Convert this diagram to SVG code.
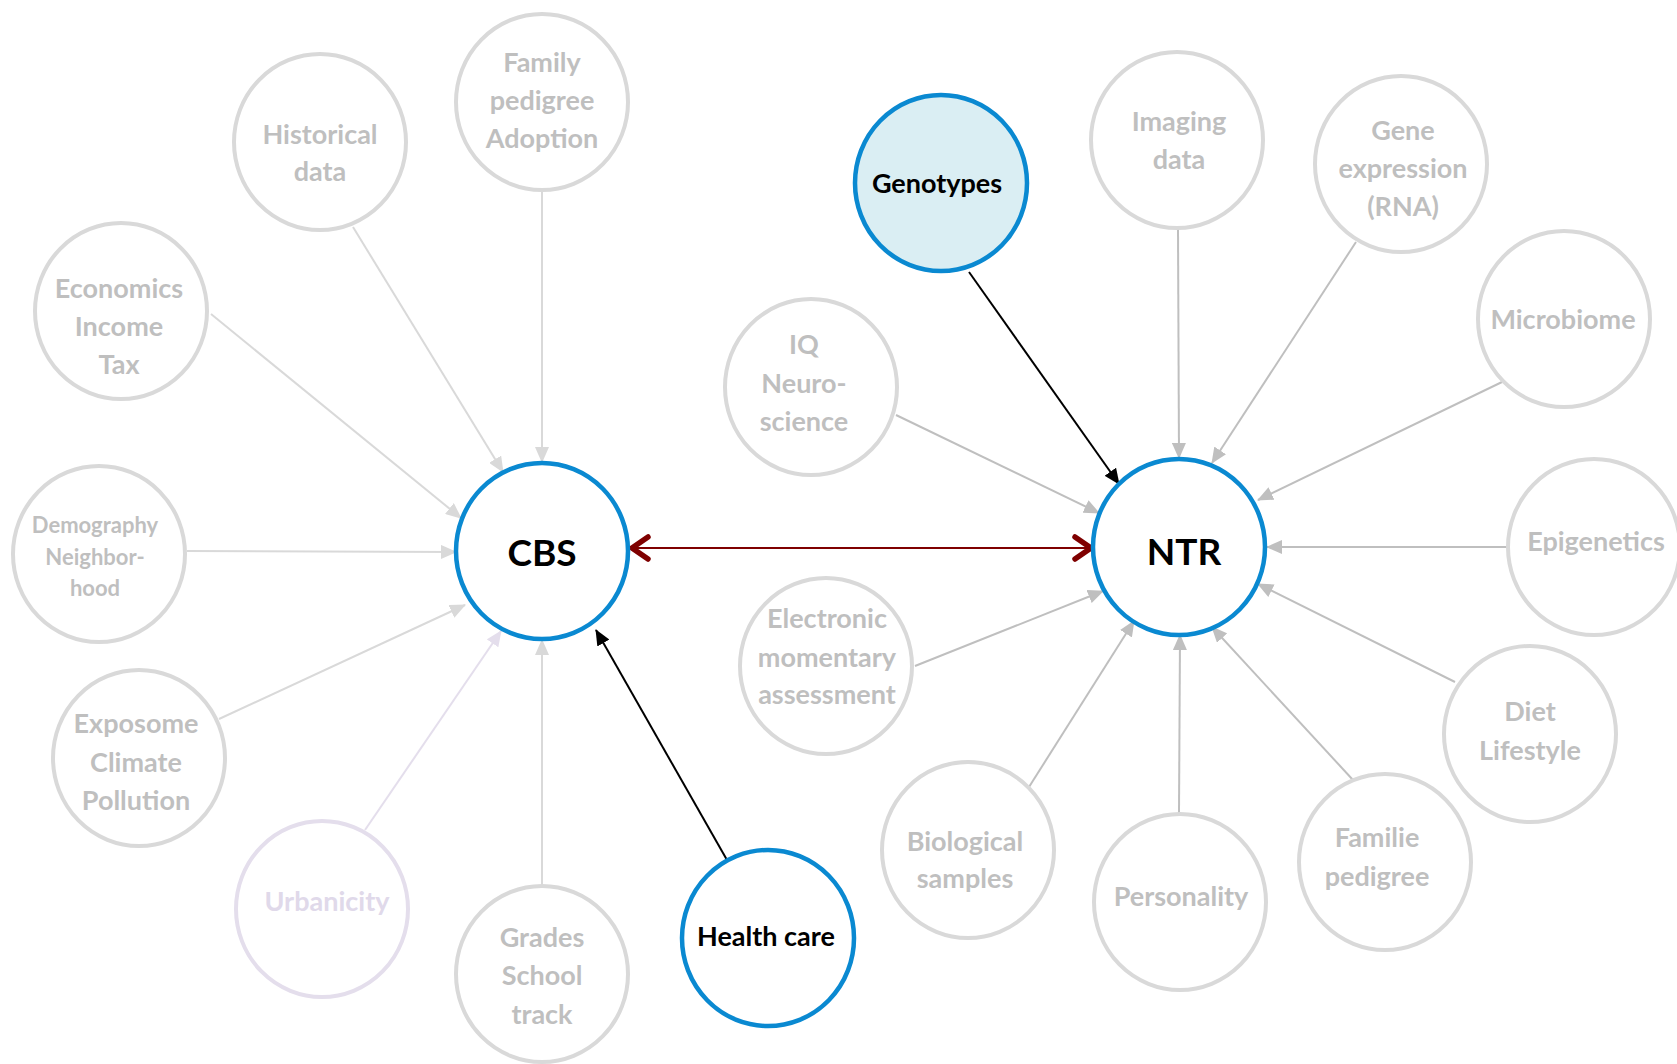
<svg xmlns="http://www.w3.org/2000/svg" width="1677" height="1064" viewBox="0 0 1677 1064">
<style>
.n ellipse{fill:#fff;stroke:#d9d9d9;stroke-width:4}
.n text{font-family:Lato,"Open Sans","Liberation Sans",sans-serif;font-weight:700;font-size:27px;fill:#bfbfbf;text-anchor:middle;dominant-baseline:central}
.hub ellipse{stroke:#0a89d1;stroke-width:4.5}
.hub text{fill:#000}
.big text{font-size:37px}
.c line{stroke-width:2;fill:none}
.l{stroke:#d9d9d9}
.g{stroke:#bfbfbf}
.k{stroke:#000}
.u{stroke:#e4deec}
</style>
<defs>
<marker id="al" markerUnits="userSpaceOnUse" markerWidth="16" markerHeight="14" refX="15" refY="7" orient="auto"><path d="M0,0L16,7L0,14z" fill="#d9d9d9"/></marker>
<marker id="ag" markerUnits="userSpaceOnUse" markerWidth="16" markerHeight="14" refX="15" refY="7" orient="auto"><path d="M0,0L16,7L0,14z" fill="#bfbfbf"/></marker>
<marker id="ak" markerUnits="userSpaceOnUse" markerWidth="16" markerHeight="14" refX="15" refY="7" orient="auto"><path d="M0,0L16,7L0,14z" fill="#000"/></marker>
<marker id="au" markerUnits="userSpaceOnUse" markerWidth="16" markerHeight="14" refX="15" refY="7" orient="auto"><path d="M0,0L16,7L0,14z" fill="#e4deec"/></marker>
<marker id="ar" markerUnits="userSpaceOnUse" markerWidth="24" markerHeight="28" refX="20" refY="14" orient="auto-start-reverse"><path d="M4,3L20,14L4,25" fill="none" stroke="#7f0000" stroke-width="5.5" stroke-linecap="round" stroke-linejoin="round"/></marker>
</defs>
<rect width="1677" height="1064" fill="#fff"/>
<g class="c" id="connectors">
<line class="l" x1="542" y1="190" x2="542" y2="462" marker-end="url(#al)"/>
<line class="l" x1="353" y1="227" x2="503" y2="472" marker-end="url(#al)"/>
<line class="l" x1="211" y1="314" x2="461" y2="518" marker-end="url(#al)"/>
<line class="l" x1="187" y1="551" x2="456" y2="552" marker-end="url(#al)"/>
<line class="l" x1="219" y1="719" x2="465" y2="605" marker-end="url(#al)"/>
<line class="u" x1="365" y1="830" x2="501" y2="631" marker-end="url(#au)"/>
<line class="l" x1="542" y1="886" x2="542" y2="640" marker-end="url(#al)"/>
<line class="k" x1="727" y1="860" x2="596" y2="630" marker-end="url(#ak)"/>
<line x1="632" y1="548" x2="1091" y2="548" stroke="#7f0000" stroke-width="5" marker-start="url(#ar)" marker-end="url(#ar)"/>
<line class="k" x1="969" y1="272" x2="1119" y2="484" marker-end="url(#ak)"/>
<line class="g" x1="1178" y1="229" x2="1179" y2="458" marker-end="url(#ag)"/>
<line class="g" x1="1356" y1="242" x2="1212" y2="463" marker-end="url(#ag)"/>
<line class="g" x1="1502" y1="382" x2="1258" y2="500" marker-end="url(#ag)"/>
<line class="g" x1="896" y1="415" x2="1099" y2="513" marker-end="url(#ag)"/>
<line class="g" x1="1508" y1="547" x2="1267" y2="547" marker-end="url(#ag)"/>
<line class="g" x1="915" y1="666" x2="1103" y2="591" marker-end="url(#ag)"/>
<line class="g" x1="1455" y1="682" x2="1258" y2="584" marker-end="url(#ag)"/>
<line class="g" x1="1029" y1="787" x2="1134" y2="621" marker-end="url(#ag)"/>
<line class="g" x1="1179" y1="813" x2="1180" y2="635" marker-end="url(#ag)"/>
<line class="g" x1="1353" y1="780" x2="1212" y2="627" marker-end="url(#ag)"/>
</g>
<g class="n hub big" id="cbs"><ellipse cx="542" cy="551" rx="86" ry="88"/><text x="542" y="551">CBS</text></g>
<g class="n hub big" id="ntr"><ellipse cx="1179" cy="547" rx="86" ry="88"/><text x="1184" y="550">NTR</text></g>
<g class="n hub" id="genotypes"><ellipse cx="941" cy="183" rx="86" ry="88" style="fill:#daeef3"/><text x="937" y="182">Genotypes</text></g>
<g class="n hub" id="healthcare"><ellipse cx="768" cy="938" rx="86" ry="88"/><text x="766" y="935">Health care</text></g>
<g class="n" id="family"><ellipse cx="542" cy="102" rx="86" ry="88"/><text x="542" y="61">Family</text><text x="542" y="99">pedigree</text><text x="542" y="137">Adoption</text></g>
<g class="n" id="historical"><ellipse cx="320" cy="142" rx="86" ry="88"/><text x="320" y="133">Historical</text><text x="320" y="170">data</text></g>
<g class="n" id="economics"><ellipse cx="121" cy="311" rx="86" ry="88"/><text x="119" y="287">Economics</text><text x="119" y="325">Income</text><text x="119" y="363">Tax</text></g>
<g class="n" id="demography"><ellipse cx="99" cy="554" rx="86" ry="88"/><text x="95" y="524" style="font-size:22px">Demography</text><text x="95" y="556" style="font-size:22px">Neighbor-</text><text x="95" y="587" style="font-size:22px">hood</text></g>
<g class="n" id="exposome"><ellipse cx="139" cy="758" rx="86" ry="88"/><text x="136" y="722">Exposome</text><text x="136" y="761">Climate</text><text x="136" y="799">Pollution</text></g>
<g class="n" id="urbanicity"><ellipse cx="322" cy="909" rx="86" ry="88" style="stroke:#e4deec"/><text x="327" y="900" style="fill:#e0d9ea">Urbanicity</text></g>
<g class="n" id="grades"><ellipse cx="542" cy="974" rx="86" ry="88"/><text x="542" y="936">Grades</text><text x="542" y="974">School</text><text x="542" y="1013">track</text></g>
<g class="n" id="imaging"><ellipse cx="1177" cy="140" rx="86" ry="88"/><text x="1179" y="120">Imaging</text><text x="1179" y="158">data</text></g>
<g class="n" id="geneexpr"><ellipse cx="1401" cy="164" rx="86" ry="88"/><text x="1403" y="129">Gene</text><text x="1403" y="167">expression</text><text x="1403" y="205">(RNA)</text></g>
<g class="n" id="microbiome"><ellipse cx="1564" cy="319" rx="86" ry="88"/><text x="1563" y="318">Microbiome</text></g>
<g class="n" id="iq"><ellipse cx="811" cy="387" rx="86" ry="88"/><text x="804" y="343">IQ</text><text x="804" y="382">Neuro-</text><text x="804" y="420">science</text></g>
<g class="n" id="epigenetics"><ellipse cx="1594" cy="547" rx="86" ry="88"/><text x="1596" y="540">Epigenetics</text></g>
<g class="n" id="ema"><ellipse cx="826" cy="666" rx="86" ry="88"/><text x="827" y="617">Electronic</text><text x="827" y="656">momentary</text><text x="827" y="693">assessment</text></g>
<g class="n" id="diet"><ellipse cx="1530" cy="734" rx="86" ry="88"/><text x="1530" y="710">Diet</text><text x="1530" y="749">Lifestyle</text></g>
<g class="n" id="biological"><ellipse cx="968" cy="850" rx="86" ry="88"/><text x="965" y="840">Biological</text><text x="965" y="877">samples</text></g>
<g class="n" id="personality"><ellipse cx="1180" cy="902" rx="86" ry="88"/><text x="1181" y="895">Personality</text></g>
<g class="n" id="familie"><ellipse cx="1385" cy="862" rx="86" ry="88"/><text x="1377" y="836">Familie</text><text x="1377" y="875">pedigree</text></g>
</svg>
